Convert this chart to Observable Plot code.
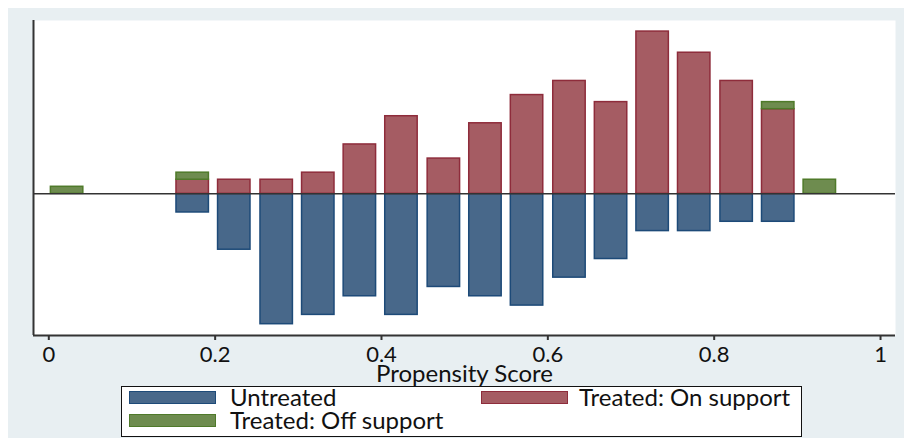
<!DOCTYPE html>
<html>
<head>
<meta charset="utf-8">
<script src="https://cdn.jsdelivr.net/npm/d3@7"></script>
<script src="https://cdn.jsdelivr.net/npm/@observablehq/plot@0.6"></script>
<style>
  html, body { margin: 0; padding: 0; background: #ffffff; }
  #panel { position: absolute; left: 8px; top: 8px; width: 896px; height: 430px; background: #e8eff2; }
  #chart { position: absolute; left: 0; top: 0; }
  #legend { position: absolute; left: 113px; top: 378px; width: 679px; height: 49px; background: #ffffff;
            border: 1.5px solid #111; font-family: Lato, "Open Sans", sans-serif; font-size: 24px; color: #111; }
  .sw { position: absolute; width: 85px; height: 11px; border: 1.5px solid; }
  .tx { position: absolute; line-height: 0.9; white-space: nowrap; }
</style>
</head>
<body>
<div id="panel">
  <div id="chart"></div>
  <div id="legend"></div>
</div>
<script>
// ---- data ----
const binCenters = [0.022, 0.072, 0.123, 0.173, 0.223, 0.274, 0.324, 0.374, 0.424, 0.475, 0.525, 0.575, 0.626, 0.676, 0.726, 0.776, 0.827, 0.877, 0.927];
const untreated  = [0, 0, 0, 2, 6, 14, 13, 11, 13, 10, 11, 12, 9, 7, 4, 4, 3, 3, 0];
const treatedOn  = [0, 0, 0, 2, 2, 2, 3, 7, 11, 5, 10, 14, 16, 13, 23, 20, 16, 12, 0];
const treatedOff = [1, 0, 0, 1, 0, 0, 0, 0, 0, 0, 0, 0, 0, 0, 0, 0, 0, 1, 2];
const xTicks = [0, 0.2, 0.4, 0.6, 0.8, 1];
const xTickLabels = ["0", "0.2", "0.4", "0.6", "0.8", "1"];
const seriesNames = ["Untreated", "Treated: On support", "Treated: Off support"];
const xLabel = "Propensity Score";

// ---- styles ----
const fills   = ["#48688a", "#a55c63", "#6e8c4f"];
const strokes = ["#1d4a78", "#8e2c3b", "#4f7a2a"];
const halfW = 0.0195;
const xDomain = [-0.0184, 1.018];
const yDomain = [-0.1247, 0.1526];

const nUntreated = d3.sum(untreated);
const nTreated = d3.sum(treatedOn) + d3.sum(treatedOff);

const rows = [];
binCenters.forEach((c, i) => {
  if (untreated[i] > 0) rows.push({s: 0, x1: c - halfW, x2: c + halfW, y1: 0, y2: -untreated[i] / nUntreated});
  if (treatedOn[i] > 0) rows.push({s: 1, x1: c - halfW, x2: c + halfW, y1: 0, y2: treatedOn[i] / nTreated});
  if (treatedOff[i] > 0) rows.push({s: 2, x1: c - halfW, x2: c + halfW, y1: treatedOn[i] / nTreated, y2: (treatedOn[i] + treatedOff[i]) / nTreated});
});

const chart = Plot.plot({
  width: 896,
  height: 380,
  marginLeft: 25,
  marginRight: 9,
  marginTop: 12,
  marginBottom: 53,
  style: {fontFamily: "Lato, 'Open Sans', sans-serif", fontSize: "22px", color: "#111", background: "transparent", overflow: "visible"},
  x: {domain: xDomain},
  y: {domain: yDomain, axis: null},
  marks: [
    Plot.frame({fill: "#ffffff", stroke: "none"}),
    Plot.rect(rows, {x1: "x1", x2: "x2", y1: "y1", y2: "y2",
      fill: d => fills[d.s], stroke: d => strokes[d.s], strokeWidth: 1.5}),
    Plot.ruleY([0], {stroke: "#333", strokeWidth: 1.5}),
    Plot.ruleX([xDomain[0]], {stroke: "#333", strokeWidth: 2}),
    Plot.ruleY([yDomain[0]], {stroke: "#333", strokeWidth: 2}),
    Plot.axisX(xTicks, {
      tickSize: 5, tickPadding: 6, stroke: "#333", strokeWidth: 2,
      tickFormat: d => xTickLabels[xTicks.indexOf(d)],
      label: null
    }),
    Plot.text([xLabel], {frameAnchor: "bottom", lineAnchor: "middle", dy: 39, fontSize: 24, fill: "#111"})
  ]
});
document.getElementById("chart").appendChild(chart);

// ---- legend ----
const legend = document.getElementById("legend");
const swPos = [[6.5, 3.5], [358.5, 3.5], [6.5, 26.5]];
const txPos = [[108, -1], [457, -1], [108, 22.4]];
seriesNames.forEach((name, i) => {
  const sw = document.createElement("div");
  sw.className = "sw";
  sw.style.left = swPos[i][0] + "px";
  sw.style.top = swPos[i][1] + "px";
  sw.style.background = fills[i];
  sw.style.borderColor = strokes[i];
  const tx = document.createElement("div");
  tx.className = "tx";
  tx.style.left = txPos[i][0] + "px";
  tx.style.top = txPos[i][1] + "px";
  tx.textContent = name;
  legend.appendChild(sw);
  legend.appendChild(tx);
});
</script>
</body>
</html>
